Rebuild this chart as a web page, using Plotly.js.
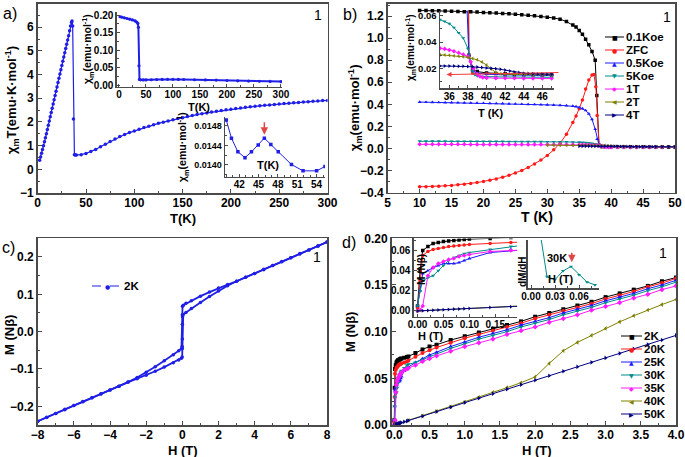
<!DOCTYPE html>
<html><head><meta charset="utf-8">
<script src="https://cdn.plot.ly/plotly-3.0.1.min.js"></script>
<style>html,body{margin:0;padding:0;background:#fff}#chart{width:685px;height:457px}</style>
</head><body><div id="chart"></div>
<script>
// ---------- Panel a: chi_m*T vs T ----------
const aT = [2,3,4,5,6,7,8,9,10,11,12,13,14,15,16,17,18,19,20,21,22,23,24,25,26,27,28,29,30,31,32,33,34,35,35.5,36.2,37,38,39,
  40,45,50,55,60,65,70,75,80,85,90,95,100,105,110,115,120,125,130,135,140,145,150,155,160,165,170,175,180,185,190,195,200,205,210,215,220,225,230,235,240,245,250,255,260,265,270,275,280,285,290,295,300];
const aChiT = [0.38,0.52,0.68,0.84,1.0,1.16,1.33,1.5,1.68,1.86,2.04,2.22,2.4,2.58,2.76,2.94,3.12,3.3,3.48,3.66,3.84,4.02,4.2,4.38,4.56,4.74,4.92,5.1,5.28,5.46,5.64,5.85,6.05,6.2,6.26,6.05,2.12,0.62,0.6,
  0.60,0.62,0.67,0.75,0.84,0.95,1.06,1.17,1.28,1.38,1.47,1.55,1.62,1.69,1.76,1.82,1.88,1.94,1.99,2.04,2.09,2.14,2.18,2.23,2.27,2.31,2.35,2.38,2.42,2.45,2.48,2.51,2.54,2.57,2.59,2.62,2.64,2.66,2.68,2.70,2.72,2.74,2.76,2.78,2.79,2.81,2.82,2.84,2.85,2.87,2.88,2.90,2.91];
// inset a1: chi_m vs T
const a1T = [2,5,10,15,20,25,30,33,35,36,37,38,40,45,50,60,70,80,90,100,110,120,140,160,180,200,220,240,260,280,300];
const a1Chi = [0.195,0.194,0.192,0.190,0.188,0.186,0.183,0.180,0.176,0.165,0.055,0.016,0.0148,0.0145,0.0145,0.0150,0.0155,0.0160,0.0162,0.0162,0.0160,0.0157,0.0150,0.0145,0.0140,0.0128,0.0120,0.0113,0.0107,0.0102,0.0097];
// inset a2: chi_m detail 40-55 K
const a2T = [40.0,40.8,41.8,42.9,43.9,44.95,45.9,46.9,48.05,50.1,51.9,54.0,55.3];
const a2Chi = [0.01492,0.01455,0.01427,0.01415,0.01427,0.01441,0.01455,0.01442,0.01427,0.01401,0.01388,0.01388,0.01397];

// ---------- Panel b: chi_m vs T at several fields ----------
const bNames = ['0.1Koe','ZFC','0.5Koe','5Koe','1T','2T','4T'];
const bT_01 = [10,11,12,13,14,15,16,17,18,19,20,21,22,23,24,25,26,27,28,29,30,31,32,33,34,34.5,35,35.5,36,36.5,37,37.5,37.75,38.1,38.5,39,40,41,42,43,44,45,46,47,48,49,50];
const bChi_01 = [1.250,1.250,1.249,1.248,1.246,1.244,1.242,1.240,1.238,1.236,1.233,1.230,1.227,1.224,1.220,1.216,1.212,1.208,1.203,1.197,1.190,1.182,1.172,1.150,1.120,1.100,1.068,1.035,0.990,0.940,0.880,0.800,0.480,0.030,0.019,0.0175,0.0165,0.016,0.0158,0.0155,0.0153,0.0152,0.015,0.0149,0.0148,0.0147,0.0146];
const bT_zfc = [10,11,12,13,14,15,16,17,18,19,20,21,22,23,24,25,26,27,28,29,30,31,32,33,34,34.5,35,35.5,36,36.5,37,37.3,37.6,37.8,38.1,38.5,39,40,42,44,46,48,50];
const bChi_zfc = [-0.346,-0.345,-0.343,-0.341,-0.338,-0.334,-0.329,-0.323,-0.316,-0.308,-0.298,-0.287,-0.275,-0.260,-0.242,-0.222,-0.198,-0.171,-0.140,-0.104,-0.062,-0.012,0.048,0.130,0.235,0.295,0.360,0.440,0.540,0.620,0.665,0.670,0.560,0.300,0.030,0.0165,0.0160,0.0158,0.0155,0.0152,0.0150,0.0148,0.0147];
const bT_05 = [10,11,12,13,14,15,16,17,18,19,20,21,22,23,24,25,26,27,28,29,30,31,32,33,34,34.5,35,35.5,36,36.5,37,37.5,37.8,38.1,38.5,39,40,42,44,46,48,50];
const bChi_05 = [0.421,0.420,0.419,0.418,0.417,0.416,0.415,0.414,0.413,0.412,0.411,0.410,0.409,0.407,0.405,0.404,0.402,0.401,0.399,0.397,0.396,0.394,0.392,0.389,0.385,0.380,0.372,0.362,0.345,0.315,0.265,0.175,0.085,0.030,0.018,0.0165,0.0155,0.0150,0.0147,0.0145,0.0143,0.0142];
const bT_5k = [10,11,12,13,14,15,16,17,18,19,20,21,22,23,24,25,26,27,28,29,30,31,32,33,34,35,35.5,36,36.5,37,37.5,38,38.25,38.5,38.75,39,39.5,40,41,42,43,44,45,46,47,48,50];
const bChi_5k = [0.066,0.066,0.066,0.066,0.066,0.065,0.065,0.065,0.065,0.065,0.064,0.064,0.064,0.064,0.063,0.063,0.063,0.062,0.062,0.062,0.061,0.061,0.060,0.060,0.059,0.057,0.0558,0.054,0.051,0.047,0.043,0.035,0.025,0.018,0.015,0.0142,0.0138,0.0136,0.0135,0.0134,0.0134,0.0133,0.0133,0.0132,0.0132,0.0131,0.0130];
const bT_1T = [10,11,12,13,14,15,16,17,18,19,20,21,22,23,24,25,26,27,28,29,30,31,32,33,34,35,35.5,36,36.5,37,37.5,38,38.3,38.6,39,39.3,39.6,40,41,42,43,44,45,46,47,48,50];
const bChi_1T = [0.038,0.038,0.038,0.038,0.038,0.038,0.038,0.038,0.037,0.037,0.037,0.037,0.037,0.037,0.037,0.037,0.036,0.036,0.036,0.036,0.036,0.036,0.036,0.036,0.0355,0.0352,0.0348,0.034,0.033,0.0318,0.0305,0.029,0.025,0.020,0.0155,0.0138,0.013,0.0127,0.0125,0.0124,0.0124,0.0123,0.0123,0.0123,0.0122,0.0122,0.0122];
const bT_2T = [30,31,32,33,34,35,35.5,36,36.5,37,37.5,38,38.5,39,39.5,40,40.5,41,41.5,42,43,44,45,46,47,48,50];
const bChi_2T = [0.031,0.031,0.0308,0.0306,0.0305,0.0303,0.0301,0.0299,0.0296,0.0292,0.0288,0.0283,0.0275,0.0265,0.0248,0.0225,0.0195,0.0168,0.0158,0.0155,0.0153,0.0152,0.0151,0.015,0.015,0.0149,0.0148];
const bT_4T = [35,35.5,36,36.5,37,37.5,38,38.5,39,39.5,40,40.5,41,41.5,42,42.5,43,43.5,44,44.5,45,45.5,46,46.5,47,48,49,50];
const bChi_4T = [0.0218,0.0218,0.0217,0.0217,0.0216,0.0215,0.0213,0.0211,0.0209,0.0206,0.0203,0.0200,0.0197,0.0192,0.0186,0.0179,0.0172,0.0167,0.0163,0.0160,0.0158,0.0157,0.0156,0.0155,0.0155,0.0154,0.0153,0.0152];

// ---------- Panel c: M vs H hysteresis at 2 K ----------
const cH_down = [8,7.5,7,6.5,6,5.5,5,4.5,4,3.5,3,2.5,2,1.5,1,0.5,0.2,0.05,0.01,0,0,-0.01,-0.05,-0.2,-0.5,-1,-1.5,-2,-2.5,-3,-3.5,-4,-4.5,-5,-5.5,-6,-6.5,-7,-7.5,-8];
const cM_down = [0.240,0.229,0.219,0.208,0.198,0.187,0.177,0.166,0.156,0.146,0.135,0.126,0.117,0.106,0.095,0.083,0.076,0.071,0.068,0.045,-0.020,-0.040,-0.046,-0.051,-0.062,-0.078,-0.094,-0.109,-0.123,-0.135,-0.146,-0.156,-0.167,-0.177,-0.188,-0.198,-0.209,-0.219,-0.230,-0.240];
const cH_up = [-8,-7.5,-7,-6.5,-6,-5.5,-5,-4.5,-4,-3.5,-3,-2.5,-2,-1.5,-1,-0.5,-0.2,-0.05,-0.01,0,0,0.01,0.05,0.2,0.5,1,1.5,2,2.5,3,3.5,4,4.5,5,5.5,6,6.5,7,7.5,8];
const cM_up = [-0.240,-0.229,-0.219,-0.208,-0.198,-0.187,-0.177,-0.166,-0.156,-0.146,-0.135,-0.126,-0.117,-0.106,-0.095,-0.083,-0.076,-0.071,-0.068,-0.045,0.020,0.040,0.046,0.051,0.062,0.078,0.094,0.109,0.123,0.135,0.146,0.156,0.167,0.177,0.188,0.198,0.209,0.219,0.230,0.240];
const cName = '2K';

// ---------- Panel d: M vs H at several temperatures ----------
const dNames = ['2K','20K','25K','30K','35K','40K','50K'];
const dH = [0,0.005,0.01,0.02,0.03,0.04,0.05,0.06,0.07,0.08,0.09,0.1,0.14,0.18,0.2,0.3,0.4,0.5,0.6,0.8,1.0,1.2,1.4,1.6,1.8,2.0,2.2,2.4,2.6,2.8,3.0,3.2,3.4,3.6,3.8,4.0];
const dM_2K = [0.005,0.040,0.060,0.064,0.067,0.068,0.069,0.0695,0.070,0.0705,0.071,0.0713,0.072,0.0728,0.0735,0.077,0.081,0.084,0.086,0.091,0.095,0.099,0.103,0.107,0.111,0.116,0.120,0.124,0.128,0.132,0.137,0.141,0.145,0.149,0.154,0.158];
const dM_20K = [0.003,0.030,0.055,0.059,0.061,0.062,0.063,0.064,0.0645,0.065,0.0655,0.066,0.067,0.068,0.069,0.073,0.077,0.080,0.083,0.088,0.093,0.097,0.101,0.105,0.109,0.114,0.118,0.122,0.126,0.130,0.135,0.139,0.143,0.148,0.152,0.157];
const dM_25K = [0.005,0.020,0.037,0.040,0.043,0.045,0.047,0.047,0.047,0.048,0.050,0.052,0.058,0.061,0.062,0.067,0.071,0.075,0.078,0.084,0.089,0.094,0.098,0.102,0.107,0.111,0.115,0.120,0.124,0.128,0.133,0.137,0.141,0.146,0.150,0.155];
const dM_30K = [0.005,0.020,0.030,0.033,0.035,0.040,0.045,0.050,0.053,0.055,0.057,0.058,0.061,0.064,0.065,0.067,0.070,0.073,0.076,0.082,0.087,0.092,0.096,0.100,0.105,0.109,0.113,0.118,0.122,0.126,0.131,0.135,0.139,0.144,0.148,0.153];
const dM_35K = [0.000,0.001,0.005,0.035,0.043,0.047,0.049,0.051,0.052,0.054,0.055,0.056,0.059,0.060,0.061,0.064,0.068,0.071,0.074,0.079,0.084,0.088,0.092,0.097,0.101,0.105,0.110,0.114,0.118,0.123,0.127,0.131,0.136,0.140,0.145,0.149];
const dH_40K = [0,0.2,0.4,0.6,0.8,1.0,1.2,1.4,1.6,1.8,2.0,2.2,2.4,2.6,2.8,3.0,3.2,3.4,3.6,3.8,4.0];
const dM_40K = [0,0.0049,0.0098,0.0147,0.0196,0.0246,0.0297,0.0349,0.0400,0.0453,0.0515,0.0660,0.0795,0.0885,0.0960,0.1035,0.1105,0.1170,0.1232,0.1290,0.1345];
const dH_50K = [0,0.01,0.02,0.03,0.04,0.05,0.06,0.07,0.08,0.09,0.1,0.14,0.18,0.2,0.4,0.6,0.8,1.0,1.2,1.4,1.6,1.8,2.0,2.2,2.4,2.6,2.8,3.0,3.2,3.4,3.6,3.8,4.0];
const dM_50K = [0,0.0003,0.0005,0.0008,0.001,0.0013,0.0015,0.0018,0.002,0.0023,0.0025,0.0034,0.0042,0.0048,0.0095,0.0143,0.0191,0.0240,0.0287,0.0335,0.0384,0.0431,0.0479,0.0527,0.0576,0.0623,0.0671,0.0719,0.0767,0.0815,0.0863,0.0911,0.0960];
// inset d2: dM/dH at 30 K (arbitrary units)
const dH_dmdh = [0.01,0.02,0.03,0.04,0.05,0.06,0.07,0.08];
const dDmdh = [13.0,2.4,1.8,3.6,4.5,2.8,1.3,0.7];

// ---------- styling / layout ----------
const W = 685, H = 457;
const FONT = 'Liberation Sans, Arial, sans-serif';
const AX = '#4a4a4a';
const BLUE = '#1f1fe6';
const COLS = ['#000000','#ff1a1a','#1a1aff','#008b8b','#ff1aff','#808000','#00007f'];
const SYMS = ['square','circle','triangle-up','triangle-down','diamond','triangle-left','triangle-right'];
const GLYPH = ['■','●','▲','▼','◆','◀','▶'];

const dx = (a,b) => [a/W, b/W];
const dy = (top,bot) => [1-bot/H, 1-top/H];
const pxX = x => x/W, pxY = y => 1-y/H;

function axis(o, inset, fs){
  const base = {showgrid:false, zeroline:false, showline:true, linecolor:AX, linewidth:1.5,
    ticks:'inside', tickcolor:AX, ticklen: inset?3:4, tickwidth:1, mirror: !inset,
    tickfont:{family:FONT, size: fs || (inset?10:12), color:'#000', weight:'bold'}, fixedrange:true, layer:'above traces'};
  return Object.assign(base, o);
}
function mnr(d){ return {ticks:'inside', ticklen:2, dtick:d, tickcolor:AX}; }

function tr(x,y,xa,ya,color,symbol,ms,lw,dash){
  return {type:'scatter', mode:'lines+markers', x:x, y:y, xaxis:xa, yaxis:ya, showlegend:false, hoverinfo:'skip',
    line:{color:color, width:lw, dash:dash||'solid'}, marker:{color:color, symbol:symbol, size:ms, line:{width:0}}};
}

const traces = [];
// a
traces.push(tr(aT, aChiT, 'x', 'y', BLUE, 'circle', 3.5, 1.2));
traces.push(tr(a1T, a1Chi, 'x2', 'y2', BLUE, 'circle', 3.2, 2));
traces.push(tr(a2T, a2Chi, 'x3', 'y3', BLUE, 'square', 3.5, 1));
// b
const bX = [bT_01,bT_zfc,bT_05,bT_5k,bT_1T,bT_2T,bT_4T];
const bY = [bChi_01,bChi_zfc,bChi_05,bChi_5k,bChi_1T,bChi_2T,bChi_4T];
for (let i=0;i<7;i++) traces.push(tr(bX[i], bY[i], 'x4', 'y4', COLS[i], SYMS[i], 3.5, 1));
for (let i=0;i<7;i++) traces.push(tr(bX[i], bY[i], 'x5', 'y5', COLS[i], SYMS[i], 3.5, 1));
// c
traces.push(tr(cH_down, cM_down, 'x6', 'y6', BLUE, 'circle', 3.5, 1.8));
traces.push(tr(cH_up, cM_up, 'x6', 'y6', BLUE, 'circle', 3.5, 1.8));
// d
const dX = [dH,dH,dH,dH,dH,dH_40K,dH_50K];
const dY = [dM_2K,dM_20K,dM_25K,dM_30K,dM_35K,dM_40K,dM_50K];
for (let i=0;i<7;i++) traces.push(tr(dX[i], dY[i], 'x7', 'y7', COLS[i], SYMS[i], 4, 1));
for (let i=0;i<7;i++) traces.push(tr(dX[i], dY[i], 'x8', 'y8', COLS[i], SYMS[i], 3.5, 1));
traces.push(tr(dH_dmdh, dDmdh, 'x9', 'y9', COLS[3], 'triangle-down', 3.5, 1));

const XS = {ticklabelstandoff:-2};
const layout = {
  width:W, height:H, margin:{l:0,r:0,t:0,b:0}, paper_bgcolor:'#fff', plot_bgcolor:'rgba(0,0,0,0)',
  showlegend:false, font:{family:FONT, color:'#000'},
  // a main
  xaxis: axis(Object.assign({domain:dx(37.7,327.5), anchor:'y', range:[0,300], dtick:50, minor:mnr(25)}, XS)),
  yaxis: axis({domain:dy(3.5,193), anchor:'x', range:[-1,7], dtick:1, minor:mnr(0.5)}),
  // a inset 1
  xaxis2: axis(Object.assign({domain:dx(116.8,282), anchor:'y2', range:[-4,302], tick0:0, dtick:50, minor:mnr(25)}, XS), true),
  yaxis2: axis({domain:dy(11.5,86.75), anchor:'x2', range:[-0.005,0.21], dtick:0.05, tickformat:'.2f', minor:mnr(0.025)}, true),
  // a inset 2
  xaxis3: axis(Object.assign({domain:dx(225,325), anchor:'y3', range:[39.8,55.3], tick0:42, dtick:3, minor:mnr(1)}, XS), true),
  yaxis3: axis({domain:dy(116.7,176.7), anchor:'x3', range:[0.01376,0.01499], tick0:0.0140, dtick:0.0004, tickformat:'.4f', minor:mnr(0.0002)}, true, 9),
  // b main
  xaxis4: axis(Object.assign({domain:dx(387.7,675), anchor:'y4', range:[5,50], dtick:5, minor:mnr(2.5)}, XS)),
  yaxis4: axis({domain:dy(3.9,192.7), anchor:'x4', range:[-0.4,1.31], tick0:0, dtick:0.2, tickformat:'.1f', minor:mnr(0.1)}),
  // b inset
  xaxis5: axis(Object.assign({domain:dx(440,553.5), anchor:'y5', range:[35,47.2], tick0:36, dtick:2, minor:mnr(1)}, XS), true),
  yaxis5: axis({domain:dy(10.5,88), anchor:'x5', range:[0.005,0.064], tick0:0, dtick:0.02, tickformat:'.2f', minor:mnr(0.01)}, true, 9.5),
  // c
  xaxis6: axis(Object.assign({domain:dx(37.7,327), anchor:'y6', range:[-8,8], dtick:2, minor:mnr(1)}, XS)),
  yaxis6: axis({domain:dy(238.3,425), anchor:'x6', range:[-0.25,0.25], tick0:0, dtick:0.1, tickformat:'.1f', minor:mnr(0.05)}),
  // d main
  xaxis7: axis(Object.assign({domain:dx(391.5,676), anchor:'y7', range:[-0.04,4.0], tick0:0, dtick:0.5, tickformat:'.1f', minor:mnr(0.25)}, XS)),
  yaxis7: axis({domain:dy(238.3,425), anchor:'x7', range:[0,0.2], dtick:0.05, tickformat:'.2f', minor:mnr(0.025)}),
  // d inset 1
  xaxis8: axis(Object.assign({domain:dx(413.9,517.1), anchor:'y8', range:[-0.007,0.192], tick0:0, dtick:0.05, tickformat:'.2f', minor:mnr(0.025)}, XS), true),
  yaxis8: axis({domain:dy(238.4,316.5), anchor:'x8', range:[-0.0055,0.072], tick0:0, dtick:0.02, tickformat:'.2f', minor:mnr(0.01)}, true),
  // d inset 2
  xaxis9: axis(Object.assign({domain:dx(527.8,599), anchor:'y9', range:[-0.004,0.085], tick0:0, dtick:0.03, tickformat:'.2f', minor:mnr(0.015)}, XS), true),
  yaxis9: axis({domain:dy(240,288.3), anchor:'x9', range:[0,10], showticklabels:false, ticks:''}, true),
  shapes:[], annotations:[]
};

function txt(x,y,s,size,opts){
  layout.annotations.push(Object.assign({xref:'paper', yref:'paper', x:pxX(x), y:pxY(y), text:s, showarrow:false,
    xanchor:'center', yanchor:'middle', font:{family:FONT, size:size, color:'#000', weight:'bold'}}, opts||{}));
}
const N = {family:FONT, size:16, color:'#000', weight:'normal'};
txt(1,13,'a)',16,{xanchor:'left', font:N});
txt(341,15,'b)',16,{xanchor:'left', font:N});
txt(0,247,'c)',16,{xanchor:'left', font:N});
txt(340,243,'d)',16,{xanchor:'left', font:N});
const N14 = {family:FONT, size:14, color:'#000', weight:'normal'};
txt(318,15,'1',14,{font:N14}); txt(667,17,'1',14,{font:N14});
txt(317,257,'1',14,{font:N14}); txt(663,253,'1',14,{font:N14});
// axis titles
txt(183,218,'T(K)',13);
txt(12,100,'χ<sub>m</sub>T(emu·K·mol<sup>-1</sup>)',13,{textangle:-90});
txt(199,107,'T(K)',11);
txt(88,49,'χ<sub>m</sub>(emu·mol<sup>-1</sup>)',10.5,{textangle:-90});
txt(268,165,'T(K)',11);
txt(183,147,'χ<sub>m</sub>(emu·mol<sup>-1</sup>)',10.5,{textangle:-90});
txt(537,217,'T (K)',14);
txt(355,108,'χ<sub>m</sub>(emu·mol<sup>-1</sup>)',13,{textangle:-90});
txt(490,113,'T (K)',11);
txt(411,48,'χ<sub>m</sub>(emu·mol<sup>-1</sup>)',10,{textangle:-90});
txt(183,450,'H (T)',13,{borderpad:0});
txt(9,335,'M (Nβ)',13,{textangle:-90});
txt(537,450,'H (T)',13,{borderpad:0});
txt(350,332,'M (Nβ)',13,{textangle:-90});
txt(430,336,'H (T)',11);
txt(421,270,'M (Nβ)',10,{textangle:-90});
txt(522,272,'dM/dH',10,{textangle:-90});
txt(560,279,'H (T)',11);
txt(557,258,'30K',11);

// arrows
layout.annotations.push({xref:'x3', yref:'y3', x:45.9, y:0.01462, ax:0, ay:-14, showarrow:true, arrowhead:2, arrowsize:1, arrowwidth:1.5, arrowcolor:'#e04848', text:''});
layout.annotations.push({xref:'x9', yref:'y9', x:0.051, y:5.4, ax:0, ay:-11, showarrow:true, arrowhead:2, arrowsize:1, arrowwidth:1.5, arrowcolor:'#e04848', text:''});
layout.annotations.push({xref:'x5', yref:'y5', x:35.7, y:0.0152, axref:'x5', ayref:'y5', ax:47.9, ay:0.0168, showarrow:true, arrowhead:2, arrowsize:1, arrowwidth:1, arrowcolor:'#f03c3c', text:''});

// custom legends
function legendRow(x0,x1,y,color,glyph,gsize,label,tx,dash){
  layout.shapes.push({type:'line', xref:'paper', yref:'paper', x0:pxX(x0), x1:pxX(x1), y0:pxY(y), y1:pxY(y), line:{color:color, width:1, dash:dash||'solid'}});
  layout.annotations.push({xref:'paper', yref:'paper', x:pxX((x0+x1)/2), y:pxY(y), text:glyph, showarrow:false, xanchor:'center', yanchor:'middle', borderpad:0, font:{family:'DejaVu Sans', size:gsize, color:color}});
  txt(tx,y,label,11.5,{xanchor:'left', borderpad:0});
}
for (let i=0;i<7;i++) legendRow(605,624,37+13*i,COLS[i],GLYPH[i],6,bNames[i],625);
for (let i=0;i<7;i++) legendRow(621,642,336+13*i,COLS[i],GLYPH[i],6,dNames[i],643);
legendRow(92,122,286,BLUE,'●',6,cName,123,'dash');

Plotly.newPlot('chart', traces, layout, {displayModeBar:false, staticPlot:true});
</script></body></html>
